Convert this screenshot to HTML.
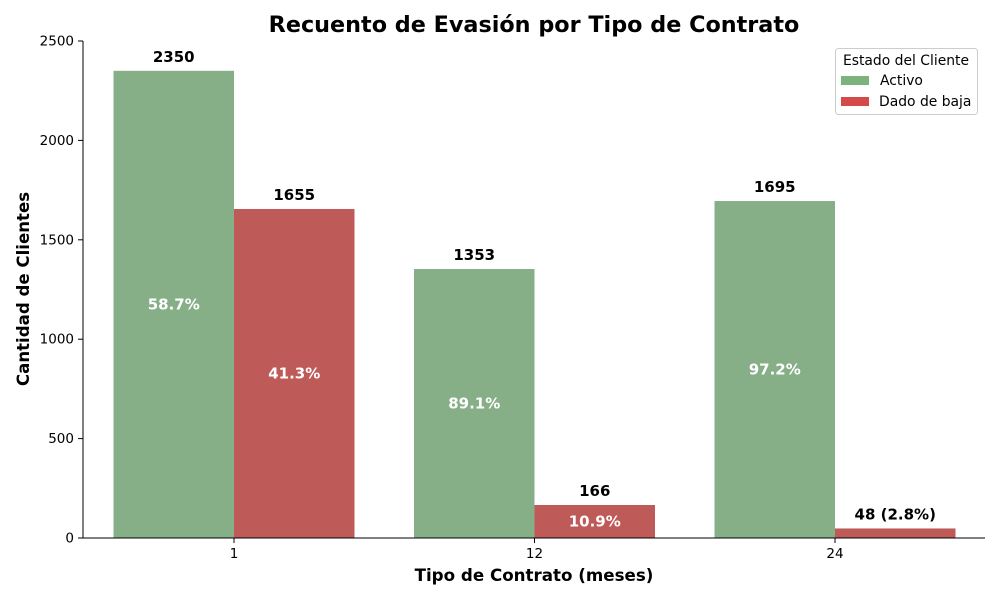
<!DOCTYPE html>
<html><head><meta charset="utf-8"><style>
body{margin:0;background:#fff}
svg text{font-family:"DejaVu Sans","Liberation Sans",sans-serif}
</style></head><body>
<svg id="chart" width="1000" height="600" xmlns="http://www.w3.org/2000/svg">
<rect width="1000" height="600" fill="#fff"/>
<text x="534" y="32" text-anchor="middle" font-size="22.3" font-weight="bold">Recuento de Evasión por Tipo de Contrato</text>
<g id="plot"></g>
<line x1="83" y1="41" x2="83" y2="538" stroke="#000" stroke-width="1"/>
<line x1="83" y1="538" x2="985" y2="538" stroke="#000" stroke-width="1"/>
<text x="534" y="581" text-anchor="middle" font-size="16.7" font-weight="bold">Tipo de Contrato (meses)</text>
<text transform="translate(29,289) rotate(-90)" text-anchor="middle" font-size="16.6" font-weight="bold">Cantidad de Clientes</text>
<g>
<rect x="835.5" y="48.5" width="142" height="66" rx="3" fill="#fff" stroke="#ccc"/>
<text x="906" y="65" text-anchor="middle" font-size="13.9">Estado del Cliente</text>
<rect x="841" y="76" width="28" height="9" fill="#7cb37d"/>
<text x="880" y="85" font-size="13.9">Activo</text>
<rect x="841" y="97" width="28" height="9" fill="#d44a48"/>
<text x="879" y="106" font-size="13.9">Dado de baja</text>
</g>
</svg>
<script>
const categories = ["1","12","24"];
const activeValues = [2350,1353,1695];
const churnValues = [1655,166,48];
const yTicks = [0,500,1000,1500,2000,2500];

const NS="http://www.w3.org/2000/svg";
const plot=document.getElementById('plot');
const y0=538, yTop=41, yMax=2500;
const y=v=>y0-(v/yMax)*(y0-yTop);
const x=i=>234+i*300.5;
const bw=120.5;
function mk(tag,attrs,text){const e=document.createElementNS(NS,tag);for(const k in attrs)e.setAttribute(k,attrs[k]);if(text!==undefined)e.textContent=text;plot.appendChild(e);return e;}

yTicks.forEach(t=>{
  const l=mk('line',{x1:78,x2:83,y1:y(t),y2:y(t),stroke:'#000'});
  
  
  const tx=mk('text',{x:74,y:y(t)+4.5,'text-anchor':'end','font-size':13.5},String(t));
  
  
});
categories.forEach((c,i)=>{
  const l=mk('line',{x1:x(i),x2:x(i),y1:538,y2:543,stroke:'#000'});
  
  
  const tx=mk('text',{x:x(i),y:558,'text-anchor':'middle','font-size':13.5},c);
  
  
  const a=activeValues[i], b=churnValues[i], tot=a+b;
  const pa=(a/tot*100).toFixed(1)+'%', pb=(b/tot*100).toFixed(1)+'%';
  const r1=mk('rect',{x:x(i)-bw,y:y(a),width:bw,height:y0-y(a),fill:'#86af88'});
  
  
  const r2=mk('rect',{x:x(i),y:y(b),width:bw,height:y0-y(b),fill:'#be5a57'});
  
  
  const t1=mk('text',{x:x(i)-bw/2,y:y(a)-9,'text-anchor':'middle','font-size':15,'font-weight':'bold'},String(a));
  
  
  const p1=mk('text',{x:x(i)-bw/2,y:(y(a)+y0)/2+5,'text-anchor':'middle','font-size':15,'font-weight':'bold',fill:'#fff'},pa);
  
  
  const small=(y0-y(b))<25;
  const t2=mk('text',{x:x(i)+bw/2,y:y(b)-9,'text-anchor':'middle','font-size':15,'font-weight':'bold'},small?(b+' ('+pb+')'):String(b));
  
  
  if(!small){
    const p2=mk('text',{x:x(i)+bw/2,y:(y(b)+y0)/2+5,'text-anchor':'middle','font-size':15,'font-weight':'bold',fill:'#fff'},pb);
    
    
  }
});
</script>
</body></html>
